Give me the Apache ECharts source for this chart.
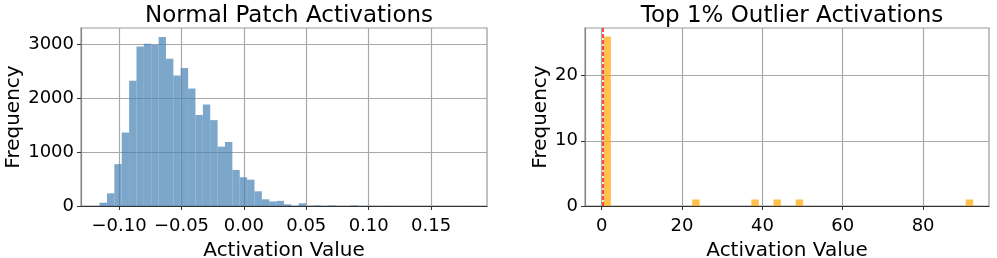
<!DOCTYPE html>
<html>
<head>
<meta charset="utf-8">
<script src="https://cdn.jsdelivr.net/npm/echarts@6/dist/echarts.min.js"></script>
<style>
html,body{margin:0;padding:0;background:#fff;}
#chart{width:997px;height:258px;}
</style>
</head>
<body>
<div id="chart"></div>
<script>
// ---- data ----
const normalTitle = "Normal Patch Activations";
const outlierTitle = "Top 1% Outlier Activations";
const xLabel = "Activation Value";
const yLabel = "Frequency";

const normalBinStart = -0.1156;
const normalBinWidth = 0.00591;
const normalCounts = [
  61, 235, 775, 1360, 2320, 2955, 3005, 2985, 3130, 2725,
  2415, 2555, 2175, 1685, 1880, 1590, 1100, 1185, 668, 532,
  488, 272, 124, 85, 95, 31, 4, 50, 3, 12,
  3, 12, 1, 2, 12, 1, 3, 1, 0, 2,
  0, 1, 0, 0, 1, 2, 0, 1, 0, 2
];
const normalXTicks = [-0.10, -0.05, 0.00, 0.05, 0.10, 0.15];
const normalYTicks = [0, 1000, 2000, 3000];

const outlierBinStart = 0.45;
const outlierBinWidth = 1.84;
const outlierCounts = [
  26, 0, 0, 0, 0, 0, 0, 0, 0, 0,
  0, 0, 1, 0, 0, 0, 0, 0, 0, 0,
  1, 0, 0, 1, 0, 0, 1, 0, 0, 0,
  0, 0, 0, 0, 0, 0, 0, 0, 0, 0,
  0, 0, 0, 0, 0, 0, 0, 0, 0, 1
];
const outlierThreshold = 0.27;
const outlierXTicks = [0, 20, 40, 60, 80];
const outlierYTicks = [0, 10, 20];

// ---- build ----
function bins(start, width, counts) {
  return counts.map((c, i) => [start + i * width, start + (i + 1) * width, c]);
}
const FONT = "DejaVu Sans";
function fmtMinus(s) { return s.replace('-', '\u2212'); }

function renderBar(color) {
  return function (params, api) {
    const x0 = api.value(0), x1 = api.value(1), v = api.value(2);
    if (!v) return null;
    const p0 = api.coord([x0, 0]);
    const p1 = api.coord([x1, v]);
    return {
      type: 'rect',
      shape: { x: p0[0], y: p1[1], width: p1[0] - p0[0], height: p0[1] - p1[1] },
      style: { fill: color, opacity: 0.7 }
    };
  };
}

function xAxisCfg(gridIndex, min, max, ticks, fmt) {
  return {
    type: 'value', gridIndex, min, max,
    name: xLabel, nameLocation: 'middle', nameGap: 35, nameMoveOverlap: false,
    nameTextStyle: { fontFamily: FONT, fontSize: 20, color: '#000' },
    axisLine: { show: true, onZero: false, lineStyle: { color: '#333', width: 1.2 } },
    axisTick: { show: true, length: 4, customValues: ticks, lineStyle: { color: '#333', width: 1 } },
    axisLabel: { customValues: ticks, margin: 11, fontFamily: FONT, fontSize: 18, color: '#000', formatter: fmt },
    splitLine: { show: true, lineStyle: { color: '#a8a8a8', width: 1.2 } }
  };
}
function yAxisCfg(gridIndex, max, ticks, nameGap) {
  return {
    type: 'value', gridIndex, min: 0, max,
    name: yLabel, nameLocation: 'middle', nameGap,
    nameTextStyle: { fontFamily: FONT, fontSize: 20, color: '#000' },
    axisLine: { show: true, onZero: false, lineStyle: { color: '#888', width: 1.2 } },
    axisTick: { show: true, length: 4, customValues: ticks, lineStyle: { color: '#333', width: 1 } },
    axisLabel: { customValues: ticks, margin: 7, fontFamily: FONT, fontSize: 18, color: '#000', formatter: v => String(v) },
    splitLine: { show: true, lineStyle: { color: '#a8a8a8', width: 1.2 } }
  };
}

const chart = echarts.init(document.getElementById('chart'), null, { renderer: 'canvas' });
chart.setOption({
  backgroundColor: '#fff',
  animation: false,
  title: [
    { text: normalTitle, left: 284, top: 0, textAlign: 'center',
      textStyle: { fontFamily: FONT, fontSize: 23, fontWeight: 'normal', color: '#000' } },
    { text: outlierTitle, left: 787, top: 0, textAlign: 'center',
      textStyle: { fontFamily: FONT, fontSize: 23, fontWeight: 'normal', color: '#000' } }
  ],
  grid: [
    { left: 81, width: 406, top: 28, height: 178, outerBoundsMode: 'none', containLabel: false,
      show: true, borderColor: '#999', borderWidth: 1.2, backgroundColor: 'transparent' },
    { left: 585, width: 404, top: 28, height: 178, outerBoundsMode: 'none', containLabel: false,
      show: true, borderColor: '#999', borderWidth: 1.2, backgroundColor: 'transparent' }
  ],
  xAxis: [
    xAxisCfg(0, -0.1305, 0.1948, normalXTicks, v => fmtMinus(v.toFixed(2))),
    xAxisCfg(1, -4.15, 96.4, outlierXTicks, v => String(v))
  ],
  yAxis: [
    yAxisCfg(0, 3296, normalYTicks, 55),
    yAxisCfg(1, 27.3, outlierYTicks, 30)
  ],
  series: [
    {
      type: 'custom', xAxisIndex: 0, yAxisIndex: 0,
      data: bins(normalBinStart, normalBinWidth, normalCounts),
      encode: { x: [0, 1], y: 2 },
      renderItem: renderBar('#4682B4')
    },
    {
      type: 'custom', xAxisIndex: 1, yAxisIndex: 1,
      data: bins(outlierBinStart, outlierBinWidth, outlierCounts),
      encode: { x: [0, 1], y: 2 },
      renderItem: renderBar('#FFA500'),
      markLine: {
        silent: true, symbol: 'none', animation: false,
        label: { show: false },
        lineStyle: { color: 'rgba(255,0,0,0.7)', width: 2, type: [4, 2] },
        data: [{ xAxis: outlierThreshold }]
      }
    }
  ]
});
</script>
</body>
</html>
